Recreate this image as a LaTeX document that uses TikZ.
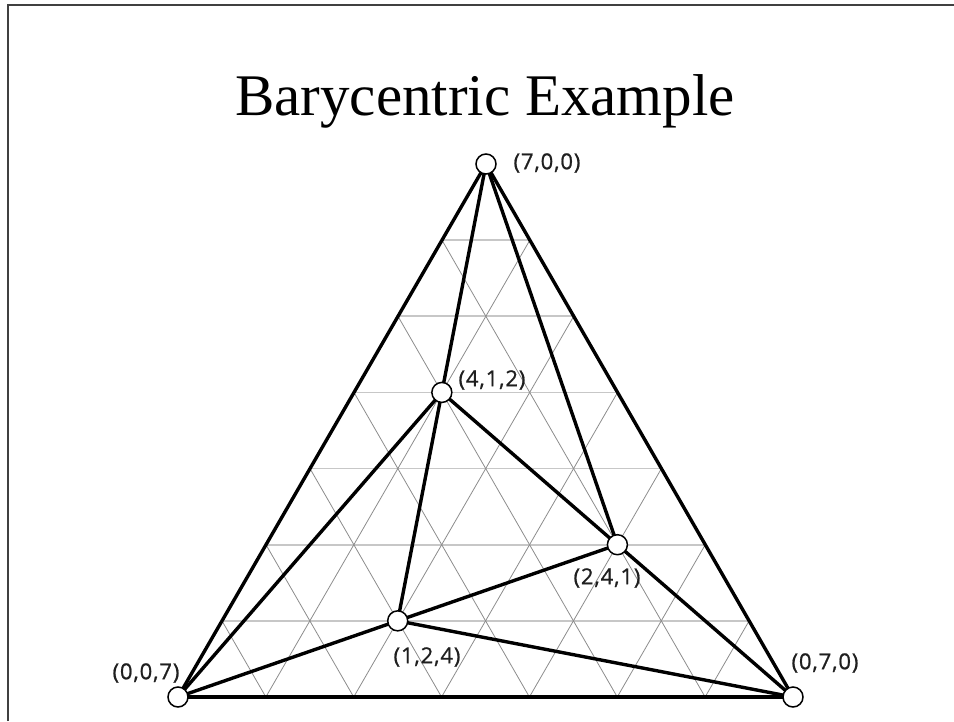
\documentclass[tikz,border=0pt]{standalone}
\usepackage{fontspec}
\setmainfont{Liberation Serif}
\newfontfamily\lblfont[LetterSpace=4,FakeBold=0.9]{Open Sans}
\begin{document}
\begin{tikzpicture}[x=1pt,y=-1pt,
  hgrid/.style={draw=black!22,line width=1.8pt},
  dgrid/.style={draw=black!45,line width=0.8pt},
  edge/.style={draw=black,line width=3.4pt},
  lbl/.style={font=\lblfont\fontsize{22}{25}\selectfont,text=black!88,inner sep=0pt}]
\useasboundingbox (0,0) rectangle (954,721);
\draw[draw=black!75,line width=1.5pt] (8,721) -- (8,5) -- (954,5);
\node[font=\fontsize{59}{66}\selectfont,anchor=base,inner sep=0pt] (title) at (485,115) {Barycentric Example};
\coordinate (cA) at (486,164);
\coordinate (cB) at (793,697);
\coordinate (cC) at (178,697);
% grid
\foreach \i in {1,...,6} {
  \pgfmathtruncatemacro\j{7-\i}
  \draw[hgrid] (barycentric cs:cA=\i,cB=0,cC=\j) -- (barycentric cs:cA=\i,cB=\j,cC=0);
}
\foreach \i in {1,...,6} {
  \pgfmathtruncatemacro\j{7-\i}
  \draw[dgrid] (barycentric cs:cA=0,cB=\i,cC=\j) -- (barycentric cs:cA=\j,cB=\i,cC=0);
  \draw[dgrid] (barycentric cs:cA=0,cB=\j,cC=\i) -- (barycentric cs:cA=\j,cB=0,cC=\i);
}
% points
\coordinate (A) at (cA);
\coordinate (B) at (cB);
\coordinate (C) at (cC);
\coordinate (P) at (barycentric cs:cA=4,cB=1,cC=2);
\coordinate (Q) at (barycentric cs:cA=2,cB=4,cC=1);
\coordinate (R) at (barycentric cs:cA=1,cB=2,cC=4);
% edges
\draw[edge] (A) -- (B);
\draw[edge] (B) -- (C);
\draw[edge] (C) -- (A);
\draw[edge] (A) -- (P);
\draw[edge] (A) -- (Q);
\draw[edge] (P) -- (Q);
\draw[edge] (P) -- (R);
\draw[edge] (P) -- (C);
\draw[edge] (Q) -- (R);
\draw[edge] (Q) -- (B);
\draw[edge] (R) -- (C);
\draw[edge] (R) -- (B);
% circles on top
\foreach \n in {A,B,C,P,Q,R} {
  \draw[black,line width=1.5pt,fill=white] (\n) circle[radius=10pt];
}
% labels
\node[lbl] (lA) at (547,163) {(7,0,0)};
\node[lbl] (lP) at (492,380) {(4,1,2)};
\node[lbl] (lQ) at (607,578) {(2,4,1)};
\node[lbl] (lR) at (427,657) {(1,2,4)};
\node[lbl] (lC) at (146,673) {(0,0,7)};
\node[lbl] (lB) at (825,663) {(0,7,0)};
\end{tikzpicture}
\end{document}
